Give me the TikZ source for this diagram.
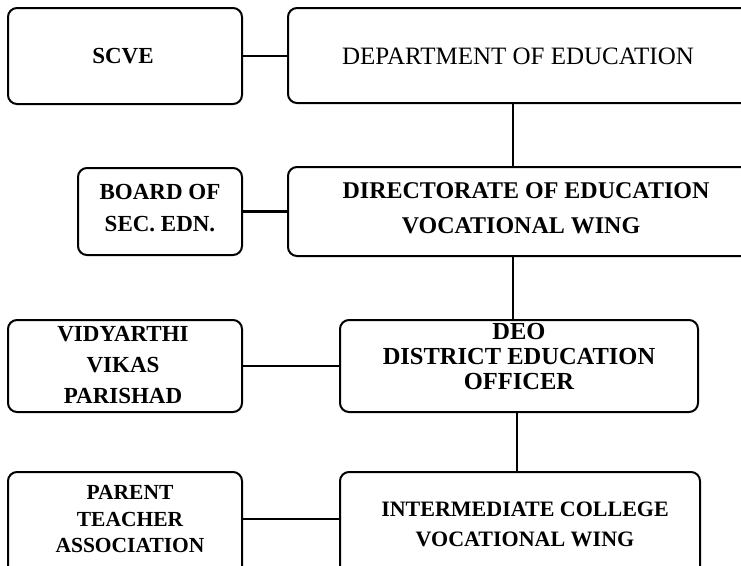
\documentclass[tikz,border=0pt]{standalone}
\usepackage{fontspec}
\setmainfont{Liberation Serif}
\begin{document}
\begin{tikzpicture}[x=1pt,y=1pt,
  box/.style={draw, line width=2pt, rounded corners=9pt, inner sep=0pt},
  lbl/.style={align=center, font=\bfseries\fontsize{22}{30}\selectfont},
  link/.style={line width=2.2pt}]
\clip (0,0) rectangle (741,-565);
\fill[white] (0,0) rectangle (741,-565);
% boxes
\node[box, minimum width=234pt, minimum height=96pt] (scve) at (125,-56) {};
\node[box, minimum width=472pt, minimum height=95pt] (dept) at (524,-55.5) {};
\node[box, minimum width=164pt, minimum height=87pt] (board) at (160,-211.5) {};
\node[box, minimum width=472pt, minimum height=89pt] (dir) at (524,-211.5) {};
\node[box, minimum width=234pt, minimum height=92pt] (vvp) at (125,-366) {};
\node[box, minimum width=358pt, minimum height=92pt] (deo) at (519,-366) {};
\node[box, minimum width=234pt, minimum height=118pt] (pta) at (125,-531) {};
\node[box, minimum width=360pt, minimum height=118pt] (ic) at (520,-531) {};
% texts
\node[lbl, font=\bfseries\fontsize{23}{30}\selectfont] (tscve) at (123,-56) {SCVE};
\node[lbl, font=\fontsize{25}{30}\selectfont] (tdept) at (518,-56) {DEPARTMENT OF EDUCATION};
\node[lbl, font=\bfseries\fontsize{23}{32}\selectfont] (tboard) at (160,-208) {BOARD OF\\SEC. EDN.};
\node[lbl, font=\bfseries\fontsize{24}{30}\selectfont] (tdir1) at (526,-191) {DIRECTORATE OF EDUCATION};
\node[lbl, font=\bfseries\fontsize{24}{30}\selectfont] (tdir2) at (521,-226) {VOCATIONAL WING};
\node[lbl, font=\bfseries\fontsize{23}{31}\selectfont] (tvvp) at (123,-365) {VIDYARTHI\\VIKAS\\PARISHAD};
\node[lbl, font=\bfseries\fontsize{24.5}{25}\selectfont] (tdeo) at (519,-357) {DEO\\DISTRICT EDUCATION\\OFFICER};
\node[lbl, font=\bfseries\fontsize{21.5}{26.5}\selectfont] (tpta) at (130,-519) {PARENT\\TEACHER\\ASSOCIATION};
\node[lbl, font=\bfseries\fontsize{22}{30}\selectfont] (tic) at (525,-524) {INTERMEDIATE COLLEGE\\VOCATIONAL WING};
% connectors
\coordinate (v1) at (513,0);
\coordinate (v2) at (517,0);
\draw[link] (scve.east) -- (scve.east -| dept.west);
\draw[link] (board.east) -- (board.east -| dir.west);
\draw[link] (vvp.east) -- (vvp.east -| deo.west);
\draw[link] (pta.east |- 0,-519) -- (ic.west |- 0,-519);
\draw[link] (dept.south -| v1) -- (dir.north -| v1);
\draw[link] (dir.south -| v1) -- (deo.north -| v1);
\draw[link] (deo.south -| v2) -- (ic.north -| v2);
\end{tikzpicture}
\end{document}
